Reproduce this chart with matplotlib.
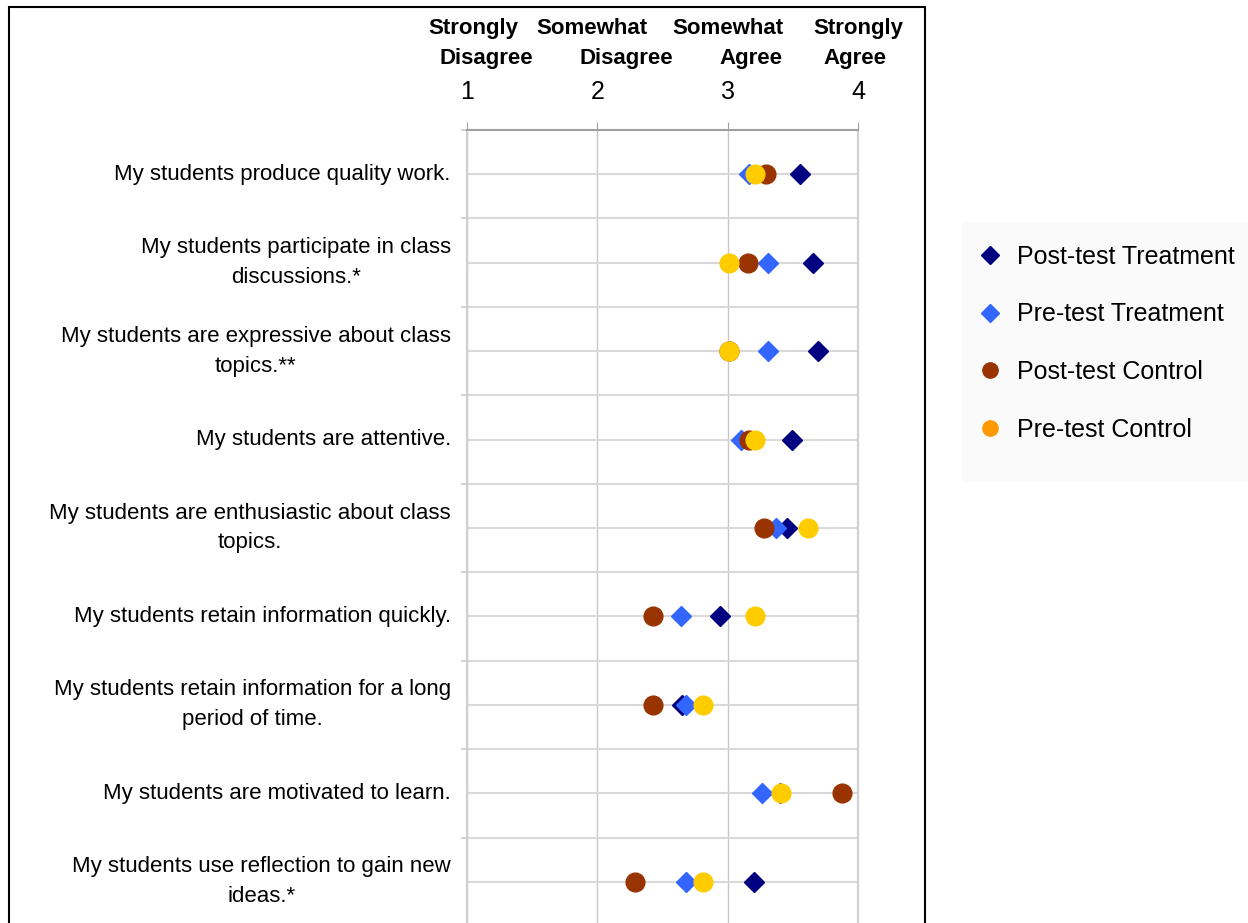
import matplotlib
matplotlib.use("Agg")
import matplotlib.pyplot as plt
from matplotlib.lines import Line2D
from matplotlib.patches import Rectangle

plt.rcParams['font.family'] = ['Liberation Sans', 'DejaVu Sans']

statements = [
    "My students produce quality work.",
    "My students participate in class\ndiscussions.*",
    "My students are expressive about class\ntopics.**",
    "My students are attentive.",
    "My students are enthusiastic about class\ntopics.",
    "My students retain information quickly.",
    "My students retain information for a long\nperiod of time.",
    "My students are motivated to learn.",
    "My students use reflection to gain new\nideas.*",
]
post_treatment = [3.55, 3.65, 3.69, 3.49, 3.45, 2.94, 2.65, 3.40, 3.20]
pre_treatment = [3.16, 3.31, 3.31, 3.10, 3.37, 2.64, 2.68, 3.26, 2.68]
post_control = [3.29, 3.15, 3.01, 3.16, 3.28, 2.43, 2.43, 3.87, 2.29]
pre_control = [3.21, 3.01, 3.01, 3.21, 3.61, 3.21, 2.81, 3.41, 2.81]

scale_values = [1, 2, 3, 4]
# (line1, x1, line2, x2) header text above each scale value
scale_names = [("Strongly", 1.05, "Disagree", 1.15),
               ("Somewhat", 1.96, "Disagree", 2.22),
               ("Somewhat", 3.00, "Agree", 3.18),
               ("Strongly", 4.00, "Agree", 3.97)]

fig = plt.figure(figsize=(12.48, 9.23), dpi=100)
ax = fig.add_axes([0.374, -0.00325, 0.3139, 0.8624])

rows = list(range(1, len(statements) + 1))
ax.plot(post_treatment, rows, 'D', color='#000080', ms=10, mew=1, zorder=3)
ax.plot(pre_treatment, rows, 'D', color='#3366FF', ms=10, mew=1, zorder=3)
ax.plot(post_control, rows, 'o', color='#993300', ms=13.5, mew=1, zorder=3)
ax.plot(pre_control, rows, 'o', color='#FFCC00', ms=13.5, mew=1, zorder=3)

ax.set_xlim(1, 4)
ax.set_ylim(len(statements) + 0.5, 0.5)

# top scale
ax.xaxis.set_ticks_position('top')
ax.set_xticks(scale_values)
ax.set_xticklabels([str(v) for v in scale_values], fontsize=18)
ax.tick_params(axis='x', length=6, color='#a0a0a0', pad=13)
for top, x1, bottom, x2 in scale_names:
    ax.text(x1, 1.120, top, transform=ax.get_xaxis_transform(),
            ha='center', va='baseline', fontsize=16, fontweight='bold')
    ax.text(x2, 1.0823, bottom, transform=ax.get_xaxis_transform(),
            ha='center', va='baseline', fontsize=16, fontweight='bold')

# statements on the left
ax.set_yticks(rows)
ax.set_yticklabels(statements, fontsize=16, multialignment='center',
                   linespacing=1.55, va='center')
ax.tick_params(axis='y', which='major', length=0, pad=11.5)
ax.set_yticks([r + 0.5 for r in [0] + rows], minor=True)
ax.tick_params(axis='y', which='minor', length=4.5, color='#c8c8c8', width=1.2)

ax.grid(axis='y', which='both', color='#d9d9d9', lw=1.5, zorder=0)
ax.grid(axis='x', which='major', color='#c8c8c8', lw=1, zorder=0)

ax.spines['top'].set_color('#a0a0a0')
ax.spines['top'].set_linewidth(1.5)
for side in ['left', 'right']:
    ax.spines[side].set_color('#d0d0d0')
    ax.spines[side].set_linewidth(1.6)
ax.spines['bottom'].set_visible(False)

# outer box
fig.add_artist(Rectangle((9 / 1248, -0.02), (925 - 9) / 1248, 1 - 7 / 923 + 0.02,
                         transform=fig.transFigure, fill=False,
                         edgecolor='black', lw=1.5))
# legend background panel
fig.add_artist(Rectangle((962 / 1248, 1 - 482 / 923), (1248 - 962) / 1248,
                         (482 - 222) / 923, transform=fig.transFigure,
                         facecolor='#fafafa', edgecolor='none', zorder=0))

handles = [
    Line2D([], [], ls='none', marker='D', color='#000080', ms=9),
    Line2D([], [], ls='none', marker='D', color='#3366FF', ms=9),
    Line2D([], [], ls='none', marker='o', color='#993300', ms=11),
    Line2D([], [], ls='none', marker='o', color='#FF9900', ms=11),
]
labels = ["Post-test Treatment", "Pre-test Treatment", "Post-test Control",
          "Pre-test Control"]
leg = fig.legend(handles, labels, loc='upper left',
                 bbox_to_anchor=(962 / 1248, 1 - 222 / 923),
                 borderaxespad=0, fontsize=18, frameon=False,
                 handlelength=0.4, handletextpad=0.9, labelspacing=1.35,
                 borderpad=0.9)

fig.savefig("out.png", dpi=100)
